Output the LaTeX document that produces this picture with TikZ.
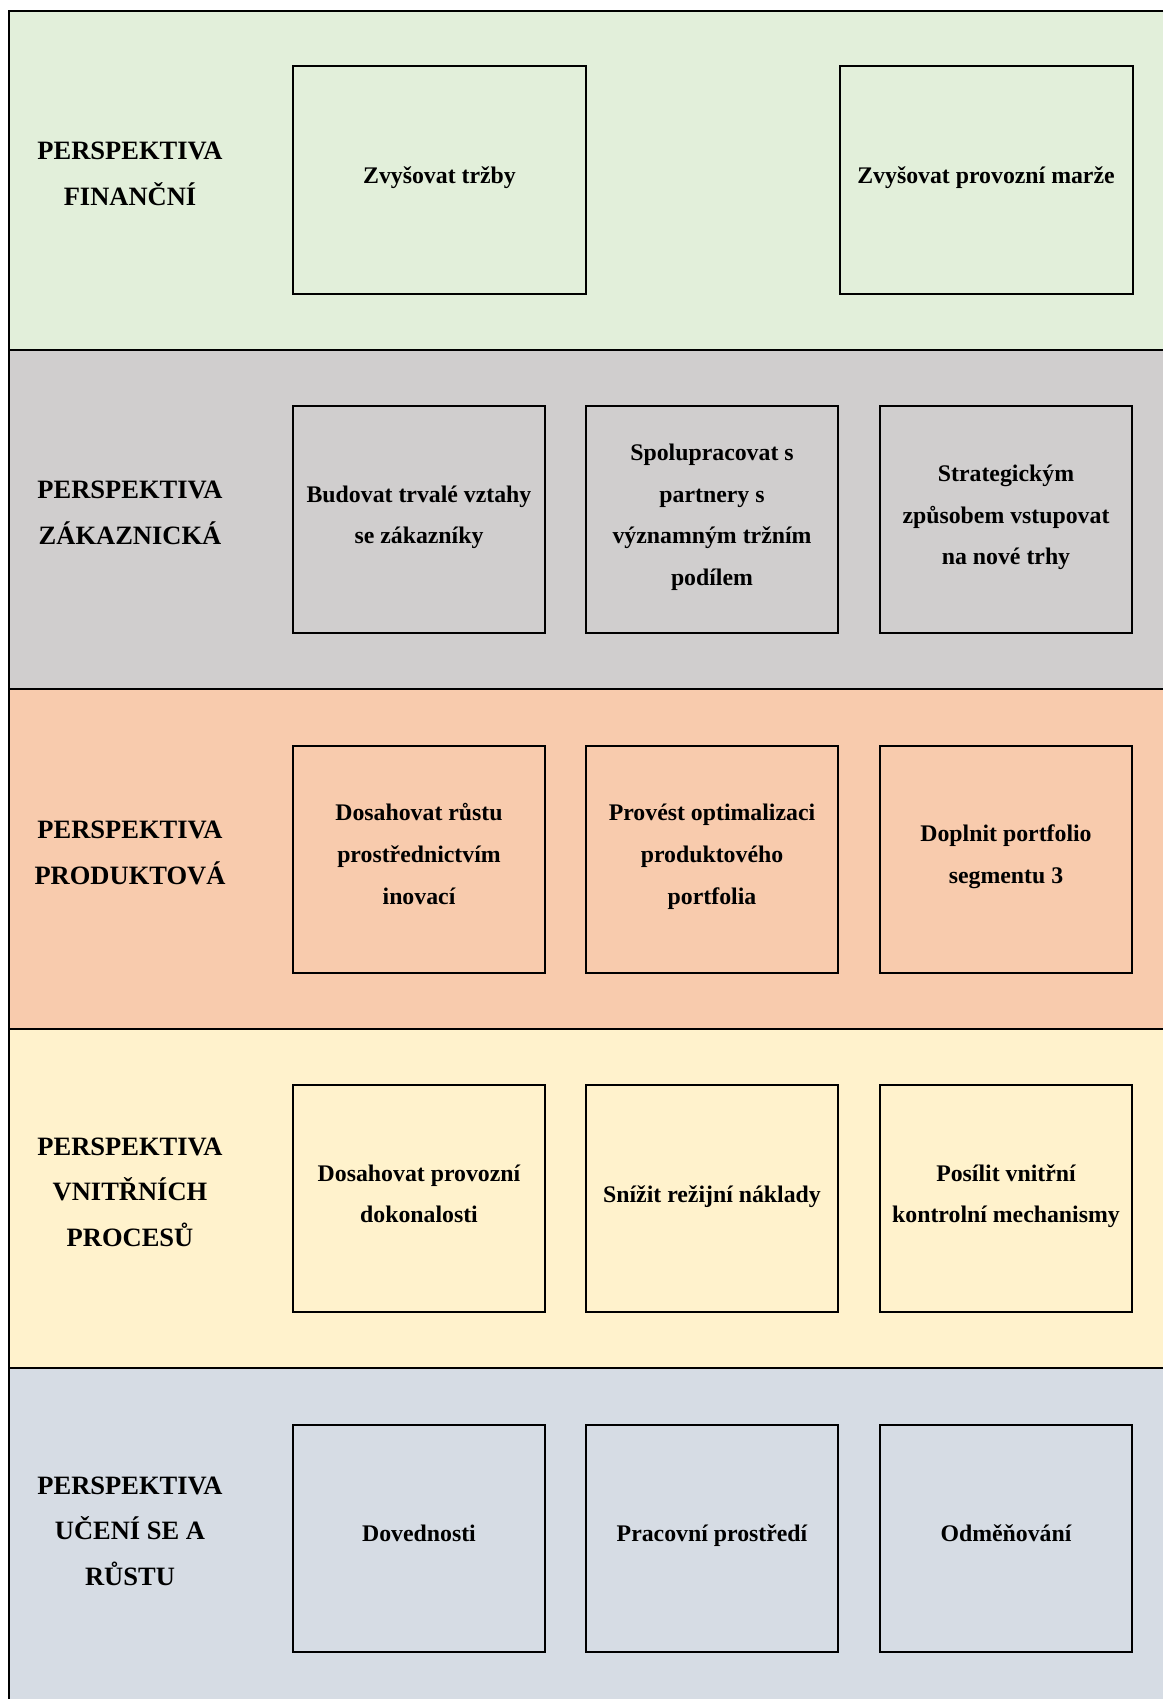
\documentclass[tikz,border=0pt]{standalone}
\usepackage{fontspec}
\setmainfont{Liberation Serif}
\definecolor{finbg}{HTML}{E2EFDA}
\definecolor{custbg}{HTML}{D0CECE}
\definecolor{prodbg}{HTML}{F8CBAD}
\definecolor{procbg}{HTML}{FFF2CC}
\definecolor{learnbg}{HTML}{D6DCE4}
\newcommand{\goalstrut}{\rule[-17.3pt]{0pt}{41.6pt}}
\begin{document}
\begin{tikzpicture}[x=1pt,y=-1pt,
    goal/.style={draw=black, line width=2pt, minimum width=252pt, minimum height=227pt,
      text width=248pt, inner sep=0pt, align=flush center, font=\bfseries\fontsize{23.8}{41.6}\selectfont,
      execute at begin node=\goalstrut, execute at end node=\goalstrut},
    widegoal/.style={goal, minimum width=293pt, text width=289pt},
    persp/.style={align=center, font=\bfseries\fontsize{26.5}{45.5}\selectfont}]
    \useasboundingbox (0,0) rectangle (1163,1699);
    % bands
    \fill [finbg] (9,11) rectangle (1163,350);
    \fill [custbg] (9,350) rectangle (1163,689);
    \fill [prodbg] (9,689) rectangle (1163,1029);
    \fill [procbg] (9,1029) rectangle (1163,1368);
    \fill [learnbg] (9,1368) rectangle (1163,1699);
    \draw [line width=2pt] (1163,11)--(9,11)--(9,1699);
    \foreach \y in {350,689,1029,1368}
      \draw [line width=2pt] (9,\y)--(1163,\y);
    % perspectives
    \node [persp] (fin) at (130,174) {PERSPEKTIVA\\FINANČNÍ};
    \node [persp] (cust) at (130,513) {PERSPEKTIVA\\ZÁKAZNICKÁ};
    \node [persp] (prod) at (130,853) {PERSPEKTIVA\\PRODUKTOVÁ};
    \node [persp] (proc) at (130,1192) {PERSPEKTIVA\\VNITŘNÍCH\\PROCESŮ};
    \node [persp] (learn) at (130,1531) {PERSPEKTIVA\\UČENÍ SE A\\RŮSTU};
    % goals
    \node [widegoal] (sales) at (439.5,180) {Zvyšovat tržby};
    \node [widegoal] (margin) at (986,180) {Zvyšovat provozní marže};
    \node [goal] (relat) at (419,519.5) {Budovat trvalé vztahy\\se zákazníky};
    \node [goal] (partner) at (712,519.5) {Spolupracovat s\\partnery s\\významným tržním\\podílem};
    \node [goal] (markets) at (1006,519.5) {Strategickým\\způsobem vstupovat\\na nové trhy};
    \node [goal] (innov) at (419,859) {Dosahovat růstu\\prostřednictvím\\inovací};
    \node [goal] (optim) at (712,859) {Provést optimalizaci\\produktového\\portfolia};
    \node [goal] (segm) at (1006,859) {Doplnit portfolio\\segmentu 3};
    \node [goal] (excel) at (419,1198.5) {Dosahovat provozní\\dokonalosti};
    \node [goal] (costs) at (712,1198.5) {Snížit režijní náklady};
    \node [goal] (control) at (1006,1198.5) {Posílit vnitřní\\kontrolní mechanismy};
    \node [goal] (skills) at (419,1538) {Dovednosti};
    \node [goal] (workenv) at (712,1538) {Pracovní prostředí};
    \node [goal] (reward) at (1006,1538) {Odměňování};
\end{tikzpicture}
\end{document}
